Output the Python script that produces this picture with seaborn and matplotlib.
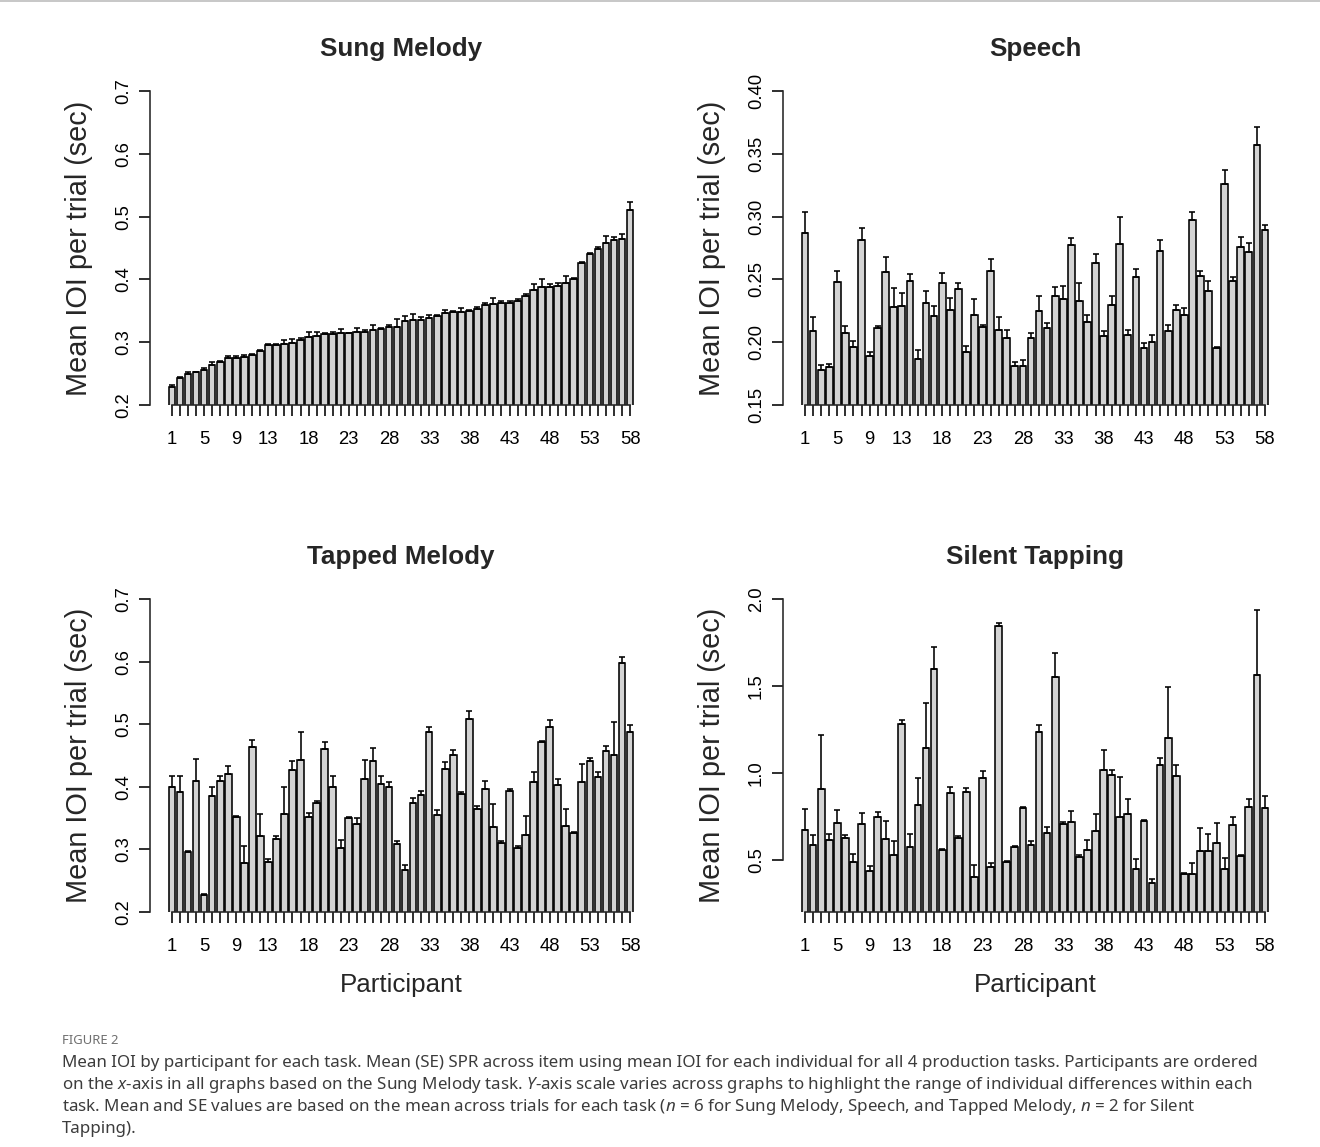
import numpy as np
import pandas as pd
import matplotlib
matplotlib.use("Agg")
import matplotlib.pyplot as plt
from matplotlib.lines import Line2D
import seaborn as sns

# ---------------- data ----------------
participants = list(range(1, 59))
xtick_labels = [1, 5, 9, 13, 18, 23, 28, 33, 38, 43, 48, 53, 58]

sung_mean = [0.228, 0.243, 0.250, 0.252, 0.256, 0.264, 0.268, 0.275, 0.275, 0.277,
             0.280, 0.286, 0.295, 0.296, 0.297, 0.299, 0.304, 0.309, 0.310, 0.313,
             0.313, 0.314, 0.314, 0.316, 0.316, 0.320, 0.321, 0.325, 0.325, 0.334,
             0.336, 0.336, 0.339, 0.342, 0.346, 0.348, 0.348, 0.350, 0.353, 0.359,
             0.361, 0.363, 0.363, 0.366, 0.374, 0.383, 0.388, 0.388, 0.389, 0.395,
             0.400, 0.426, 0.440, 0.449, 0.458, 0.463, 0.465, 0.511]
sung_se = [0.004, 0.002, 0.003, 0.001, 0.003, 0.004, 0.002, 0.003, 0.003, 0.002,
           0.002, 0.002, 0.002, 0.001, 0.006, 0.006, 0.002, 0.007, 0.006, 0.002,
           0.004, 0.007, 0.001, 0.006, 0.004, 0.007, 0.002, 0.002, 0.012, 0.008,
           0.009, 0.004, 0.005, 0.002, 0.006, 0.002, 0.006, 0.002, 0.003, 0.003,
           0.010, 0.002, 0.002, 0.002, 0.002, 0.009, 0.013, 0.005, 0.006, 0.010,
           0.002, 0.002, 0.002, 0.002, 0.011, 0.004, 0.007, 0.012]

speech_mean = [0.287, 0.209, 0.178, 0.180, 0.248, 0.207, 0.196, 0.281, 0.189, 0.211,
               0.256, 0.228, 0.229, 0.249, 0.187, 0.231, 0.221, 0.247, 0.226, 0.242,
               0.192, 0.222, 0.212, 0.257, 0.210, 0.203, 0.181, 0.181, 0.203, 0.225,
               0.211, 0.237, 0.234, 0.277, 0.233, 0.216, 0.263, 0.205, 0.230, 0.278,
               0.206, 0.252, 0.195, 0.200, 0.273, 0.209, 0.226, 0.222, 0.297, 0.253,
               0.241, 0.195, 0.326, 0.249, 0.276, 0.272, 0.357, 0.289]
speech_se = [0.017, 0.011, 0.004, 0.003, 0.009, 0.006, 0.005, 0.010, 0.003, 0.002,
             0.012, 0.015, 0.010, 0.005, 0.007, 0.0095, 0.008, 0.008, 0.009, 0.005,
             0.005, 0.012, 0.002, 0.009, 0.010, 0.007, 0.003, 0.005, 0.004, 0.012,
             0.004, 0.007, 0.011, 0.006, 0.014, 0.006, 0.007, 0.004, 0.007, 0.022,
             0.004, 0.006, 0.004, 0.006, 0.008, 0.005, 0.004, 0.005, 0.007, 0.004,
             0.008, 0.001, 0.011, 0.003, 0.008, 0.007, 0.014, 0.004]

tapped_mean = [0.399, 0.391, 0.296, 0.410, 0.227, 0.386, 0.409, 0.420, 0.351, 0.278,
               0.464, 0.321, 0.280, 0.316, 0.356, 0.427, 0.443, 0.351, 0.374, 0.460,
               0.400, 0.303, 0.350, 0.340, 0.413, 0.442, 0.404, 0.399, 0.308, 0.267,
               0.374, 0.387, 0.487, 0.355, 0.428, 0.450, 0.389, 0.508, 0.364, 0.397,
               0.336, 0.310, 0.393, 0.302, 0.323, 0.408, 0.471, 0.495, 0.403, 0.338,
               0.326, 0.408, 0.441, 0.415, 0.457, 0.451, 0.597, 0.487]
tapped_se = [0.019, 0.026, 0.002, 0.035, 0.001, 0.013, 0.009, 0.014, 0.003, 0.028,
             0.011, 0.035, 0.004, 0.005, 0.043, 0.015, 0.045, 0.007, 0.004, 0.011,
             0.017, 0.012, 0.001, 0.010, 0.030, 0.020, 0.014, 0.009, 0.005, 0.008,
             0.008, 0.007, 0.008, 0.008, 0.011, 0.009, 0.003, 0.013, 0.005, 0.012,
             0.036, 0.004, 0.004, 0.003, 0.031, 0.016, 0.002, 0.011, 0.009, 0.027,
             0.002, 0.028, 0.005, 0.009, 0.0075, 0.053, 0.010, 0.012]

silent_mean = [0.669, 0.585, 0.908, 0.613, 0.713, 0.623, 0.487, 0.706, 0.435, 0.744,
               0.619, 0.529, 1.284, 0.573, 0.815, 1.142, 1.596, 0.558, 0.886, 0.623,
               0.888, 0.400, 0.969, 0.461, 1.845, 0.488, 0.575, 0.800, 0.586, 1.238,
               0.652, 1.551, 0.706, 0.719, 0.515, 0.558, 0.663, 1.019, 0.988, 0.744,
               0.763, 0.446, 0.721, 0.369, 1.046, 1.202, 0.984, 0.421, 0.419, 0.550,
               0.550, 0.594, 0.448, 0.698, 0.523, 0.806, 1.565, 0.798]
silent_se = [0.123, 0.059, 0.309, 0.033, 0.073, 0.021, 0.044, 0.063, 0.027, 0.029,
             0.102, 0.077, 0.021, 0.075, 0.156, 0.258, 0.130, 0.006, 0.035, 0.013,
             0.027, 0.071, 0.042, 0.021, 0.015, 0.005, 0.004, 0.004, 0.021, 0.038,
             0.038, 0.139, 0.012, 0.059, 0.010, 0.058, 0.098, 0.111, 0.027, 0.231,
             0.088, 0.056, 0.010, 0.019, 0.038, 0.292, 0.060, 0.004, 0.065, 0.134,
             0.098, 0.115, 0.063, 0.048, 0.004, 0.044, 0.371, 0.067]

titles = ["Sung Melody", "Speech", "Tapped Melody", "Silent Tapping"]
ylims = [(0.2, 0.7), (0.15, 0.40), (0.2, 0.7), (0.2, 2.0)]
yticks = [[0.2, 0.3, 0.4, 0.5, 0.6, 0.7],
          [0.15, 0.20, 0.25, 0.30, 0.35, 0.40],
          [0.2, 0.3, 0.4, 0.5, 0.6, 0.7],
          [0.5, 1.0, 1.5, 2.0]]
ytick_labels = [["0.2", "0.3", "0.4", "0.5", "0.6", "0.7"],
                ["0.15", "0.20", "0.25", "0.30", "0.35", "0.40"],
                ["0.2", "0.3", "0.4", "0.5", "0.6", "0.7"],
                ["0.5", "1.0", "1.5", "2.0"]]
means = [sung_mean, speech_mean, tapped_mean, silent_mean]
ses = [sung_se, speech_se, tapped_se, silent_se]

# ---------------- style ----------------
sns.set_theme(style="ticks")
plt.rcParams["font.family"] = ["Liberation Sans", "DejaVu Sans"]
plt.rcParams["mathtext.fontset"] = "custom"
plt.rcParams["mathtext.rm"] = "Noto Sans"
plt.rcParams["mathtext.it"] = "Noto Sans:italic"

W, H = 1320, 1147
fig = plt.figure(figsize=(W / 100, H / 100), dpi=100)
fig.patch.set_facecolor("white")

# axes rectangles in pixel coords (left, top, right, bottom)
rects = [(150, 91, 652, 405), (783, 91, 1287, 405),
         (150, 599, 652, 912), (783, 599, 1287, 912)]

LW = 1.15
bar_w = 1 / 1.2
pad = 0.04 * (57 + bar_w)

for i in range(4):
    l, t, r, b = rects[i]
    ax = fig.add_axes([l / W, 1 - b / H, (r - l) / W, (b - t) / H])
    df = pd.DataFrame({"participant": participants, "iois": means[i]})
    sns.barplot(data=df, x="participant", y="iois", order=participants,
                color="#d3d3d3", saturation=1, edgecolor="black",
                linewidth=LW, width=bar_w, errorbar=None, ax=ax, zorder=2)
    xpos = np.arange(len(participants))
    ax.errorbar(xpos, means[i], yerr=[np.zeros(len(ses[i])), ses[i]],
                fmt="none", ecolor="black", elinewidth=LW,
                capsize=2.0, capthick=LW, zorder=3)
    ax.set_ylim(*ylims[i])
    ax.set_xlim(-bar_w / 2 - pad, 57 + bar_w / 2 + pad)

    # spines like R axes
    for s in ["top", "right"]:
        ax.spines[s].set_visible(False)
    ax.spines["left"].set_bounds(yticks[i][0], yticks[i][-1])
    ax.spines["bottom"].set_bounds(0, 57)
    ax.spines["left"].set_linewidth(LW)
    ax.spines["bottom"].set_linewidth(LW)

    ax.set_yticks(yticks[i])
    ax.set_yticklabels(ytick_labels[i])
    ax.set_xticks(xpos)
    ax.set_xticklabels([str(p) if p in xtick_labels else "" for p in participants])
    ax.tick_params(axis="both", length=8, width=LW, color="black",
                   labelsize=13.3, labelcolor="black")
    ax.tick_params(axis="x", pad=11)
    ax.tick_params(axis="y", pad=5)
    for lab in ax.get_yticklabels():
        lab.set_rotation(90)
        lab.set_va("center")
        lab.set_ha("right")
    ax.set_xlabel("")
    ax.set_ylabel("")

    aw = r - l
    ah = b - t
    ax.text(0.5, 1 + 42 / ah, titles[i], transform=ax.transAxes,
            ha="center", va="center", fontsize=18.7, fontweight="bold")
    ax.text(-71 / aw, 0.5, "Mean IOI per trial (sec)", transform=ax.transAxes,
            ha="center", va="center", rotation=90, fontsize=20.8)
    if i >= 2:
        ax.text(0.5, -73 / ah, "Participant", transform=ax.transAxes,
                ha="center", va="center", fontsize=18.7)

# top border line
fig.add_artist(Line2D([0, 1], [1 - 1.0 / H, 1 - 1.0 / H], transform=fig.transFigure,
                      color="#bdbdbd", linewidth=1.2))

# caption
cap_font = ["Noto Sans", "DejaVu Sans"]
fig.text(62 / W, 1 - 1041 / H, "FIGURE 2", ha="left", va="center",
         fontsize=9.4, color="#6f6f6f", family=cap_font)
cap_lines = [
    "Mean IOI by participant for each task. Mean (SE) SPR across item using mean IOI for each individual for all 4 production tasks. Participants are ordered",
    "on the $x$-axis in all graphs based on the Sung Melody task. $Y$-axis scale varies across graphs to highlight the range of individual differences within each",
    "task. Mean and SE values are based on the mean across trials for each task ($n$ = 6 for Sung Melody, Speech, and Tapped Melody, $n$ = 2 for Silent",
    "Tapping).",
]
for k, line in enumerate(cap_lines):
    fig.text(62 / W, 1 - (1063 + 22 * k) / H, line, ha="left", va="center",
             fontsize=12.2, color="#3c3c3c", family=cap_font)

fig.savefig("out.png", dpi=100, facecolor="white")
